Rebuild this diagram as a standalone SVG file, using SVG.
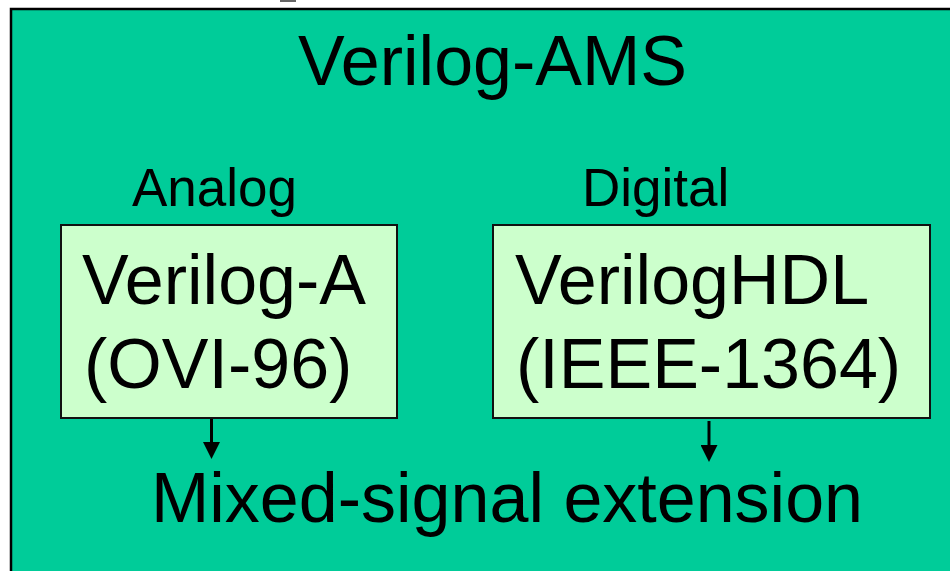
<svg xmlns="http://www.w3.org/2000/svg" width="950" height="571" viewBox="0 0 950 571">
  <style>
    text { font-family: "Liberation Sans", Arial, sans-serif; fill: #000; }
    .title { font-size: 70px; }
    .label { font-size: 53px; }
    .big { font-size: 70px; }
    .box { fill: #CCFFCC; stroke: #111; stroke-width: 2; }
    .conn { stroke: #000; stroke-width: 3; fill: none; }
  </style>
  <defs>
    <marker id="arrow" markerUnits="userSpaceOnUse" markerWidth="17" markerHeight="17" refX="0" refY="8.5" orient="auto" viewBox="0 0 17 17">
      <path d="M0,0 L17,8.5 L0,17 z" fill="#000"/>
    </marker>
  </defs>

  <rect width="950" height="571" fill="#fff"/>
  <line x1="280" y1="1" x2="296" y2="1" stroke="#333" stroke-width="1.5"/>

  <g id="verilog-ams">
    <rect x="11" y="9" width="960" height="600" fill="#00CC99" stroke="#000" stroke-width="2.5"/>
    <text class="title" x="298" y="85">Verilog-AMS</text>
  </g>

  <g id="analog-label">
    <text class="label" x="132" y="206">Analog</text>
  </g>
  <g id="digital-label">
    <text class="label" x="582" y="206">Digital</text>
  </g>

  <g id="verilog-a">
    <rect class="box" x="61" y="225" width="336" height="193"/>
    <text class="big" x="82" y="304">Verilog-A</text>
    <text class="big" x="84" y="388">(OVI-96)</text>
  </g>

  <g id="verilog-hdl">
    <rect class="box" x="493" y="225" width="437" height="193"/>
    <text class="big" x="515" y="304">VerilogHDL</text>
    <text class="big" x="516" y="388">(IEEE-1364)</text>
  </g>

  <g id="mixed-signal">
    <text class="big" x="151" y="522">Mixed-signal extension</text>
  </g>

  <g id="connectors">
    <line class="conn" x1="211.5" y1="419" x2="211.5" y2="442" marker-end="url(#arrow)"/>
    <line class="conn" x1="709" y1="421" x2="709" y2="445" marker-end="url(#arrow)"/>
  </g>
</svg>
